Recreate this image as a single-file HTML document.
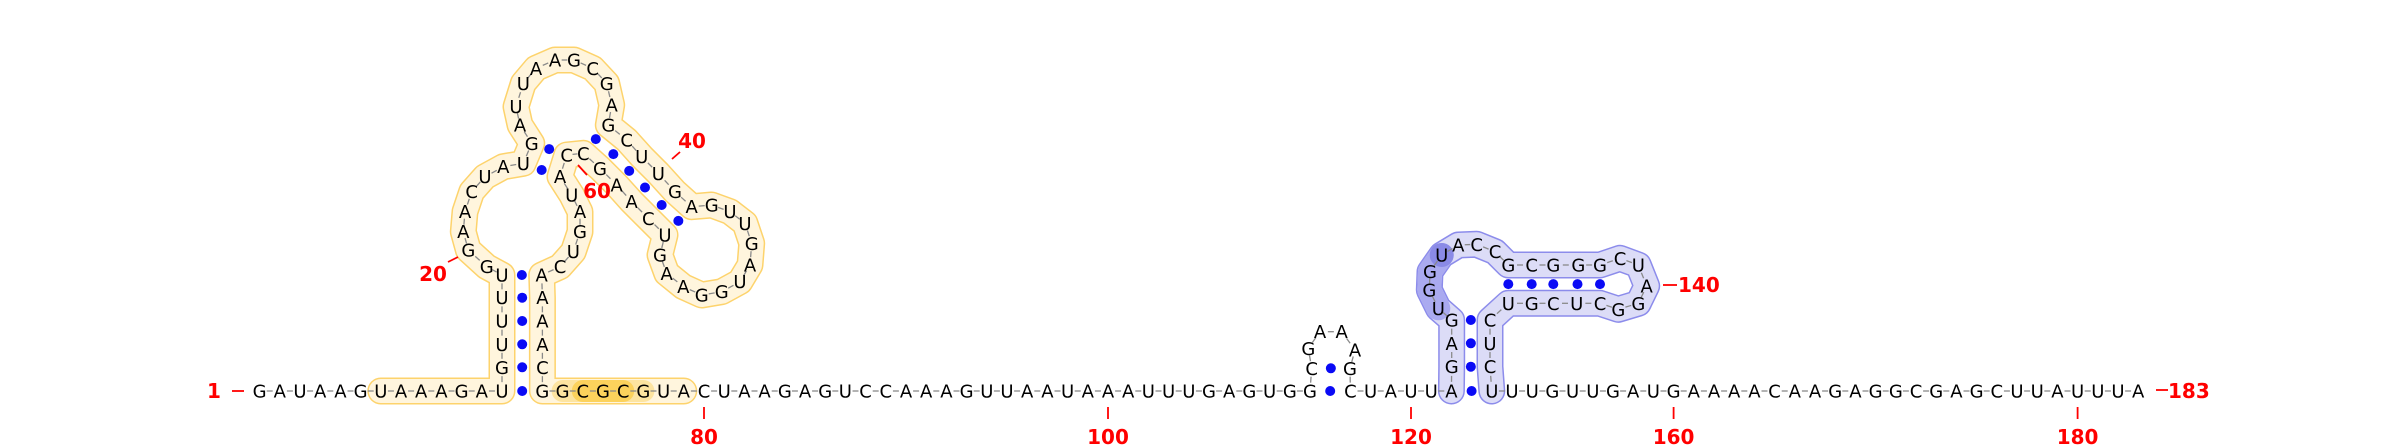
<!DOCTYPE html>
<html><head><meta charset="utf-8"><style>
html,body{margin:0;padding:0;background:#fff;width:2400px;height:448px;overflow:hidden}
svg text{font-family:"DejaVu Sans","Liberation Sans",sans-serif}
</style></head><body>
<svg id="rna" xmlns="http://www.w3.org/2000/svg" width="2400" height="448" viewBox="0 0 2400 448">
<g id="bands"></g>
<g id="bb"></g>
<g id="pairs"></g>
<g id="nts"></g>
<g id="labels"></g>
</svg>
<script>
// ---- data ----
const seqLeftBase = "GAUAAGUAAAGAU";                       // nt 1-13, slots 0-12
const seqStemL = "GUUUU";                                 // nt 14-18
const loopLetters = "GGAACUAUGAUUAAGCGAGCUUGAGUUGAUGGAAGUCAAGCCAUAGUCA"; // nt 19-67
const loopX = [486.7,468.3,463.3,465,471.7,485,503.3,523.3,531.7,520,516,523.3,536,555,574,592.7,606.7,611.7,608.3,626.7,641.7,658.3,675,691.7,711.7,730,745,751.7,750,740,721.7,701.7,683.3,666.7,660,665,648.3,631.7,616.7,600,583.3,566.7,560,571.7,580,580,573.3,560,541.7];
const loopY = [266.7,250,231.7,211.7,191.7,176.7,166.7,163.3,143.3,125,106.7,83.3,68.3,60,60,68.3,83.3,105,125,140,156.7,173.3,191.7,206.7,205,211.7,223.3,243.3,265,281.7,291.7,295,286.7,273.3,255,235,218.3,201.7,185,168.3,153.3,155,176.7,195,211.7,231.7,251.7,266.7,275];
const seqStemR = "AAAC";                                  // nt 68-71
const seqMid = "GGCGCGUACUAAGAGUCCAAAGUUAAUAAAUUUGAGUGG"; // nt 72-110, slots 14-52
const hpLetters = "CGAAAG";                               // nt 111-116
const hpX = [1311.7,1308.3,1320,1341.7,1355,1350];
const hpY = [368.3,348.3,331.7,331.7,350,368.3];
const seqMid2 = "CUAUUA";                                 // nt 117-122, slots 54-59
const pkLetters = "GAGUGGUACCGCGGGCUAGGCUCGUCUC";         // nt 123-150
const pkX = [1451.7,1451.7,1451.7,1438.3,1429.3,1430,1441.7,1458.3,1476.7,1495,1508.3,1531.7,1553.3,1578.3,1600,1620,1638.3,1646.7,1638.3,1618.3,1600,1576.7,1553.3,1531.7,1508.3,1490,1490,1490];
const pkY = [366.7,343.3,320,308.3,290,271.7,255,245,244.3,251.7,265,265,265,265,265,258.3,265,286,303.3,309.3,303.3,303.3,303.3,303.3,303.3,320,343.3,366.7];
const seqRight = "UUUGUUGAUGAAAACAAGAGGCGAGCUUAUUUA";     // nt 151-183, slots 61-93
const pairList = [[13,72],[14,71],[15,70],[16,69],[17,68],[18,67],[26,61],[27,60],[37,59],[38,58],[39,57],[40,56],[41,55],[42,54],[110,117],[111,116],[122,151],[123,150],[124,149],[125,148],[133,147],[134,146],[135,145],[136,144],[137,143]];
const tickNums = [80,100,120,160,180];
const structLabels = ["20","40","60"];
const structLabelPos = [[433,274,448,262,458,257],[692,141,672,159,680,152],[597,191,578,165,587,175]];

// ---- layout ----
const X0 = 259.6, DX = 20.2, BY = 391;
const slotX = s => X0 + DX*s;
const nt = {}; // n -> {c,x,y}
function put(n,c,x,y){ nt[n]={c:c,x:x,y:y}; }
for(let i=0;i<13;i++) put(i+1,seqLeftBase[i],slotX(i),BY);
const stemYs=[367.3,344.3,321,297.7,275];
for(let i=0;i<5;i++) put(14+i,seqStemL[i],slotX(12),stemYs[i]);
for(let i=0;i<loopLetters.length;i++) put(19+i,loopLetters[i],loopX[i],loopY[i]);
for(let i=0;i<4;i++) put(68+i,seqStemR[i],slotX(14),stemYs[3-i]);
for(let i=0;i<seqMid.length;i++) put(72+i,seqMid[i],slotX(14+i),BY);
for(let i=0;i<6;i++) put(111+i,hpLetters[i],hpX[i],hpY[i]);
for(let i=0;i<6;i++) put(117+i,seqMid2[i],slotX(54+i),BY);
for(let i=0;i<pkLetters.length;i++) put(123+i,pkLetters[i],pkX[i],pkY[i]);
for(let i=0;i<seqRight.length;i++) put(151+i,seqRight[i],slotX(61+i),BY);

const NS="http://www.w3.org/2000/svg";
function mk(tag,attrs,parent){ const e=document.createElementNS(NS,tag); for(const k in attrs) e.setAttribute(k,attrs[k]); parent.appendChild(e); return e; }
const gB=document.getElementById('bands'), gBB=document.getElementById('bb'), gP=document.getElementById('pairs'), gN=document.getElementById('nts'), gL=document.getElementById('labels');

function ptsOf(a,b){ let s=[]; for(let n=a;n<=b;n++) s.push(nt[n].x.toFixed(1)+','+nt[n].y.toFixed(1)); return s.join(' '); }
function band(a,b,fill,stroke,w,name){
  const o=mk('polyline',{points:ptsOf(a,b),fill:'none',stroke:stroke,'stroke-width':w+3,'stroke-linejoin':'round','stroke-linecap':'round'},gB);
  
  
  const f=mk('polyline',{points:ptsOf(a,b),fill:'none',stroke:fill,'stroke-width':w,'stroke-linejoin':'round','stroke-linecap':'round'},gB);
  
  
}
band(7,79,'#fff5dd','#fdd36c',24,'yellow-domain-band');
const m1=mk('polyline',{points:ptsOf(73,77),fill:'none',stroke:'#fde4a0','stroke-width':22,'stroke-linecap':'round'},gB);


const m2=mk('polyline',{points:ptsOf(74,76),fill:'none',stroke:'#fcd25c','stroke-width':22,'stroke-linecap':'round'},gB);


band(122,151,'#dcdcf7','#8c8ceb',24,'purple-domain-band');
const p1=mk('polyline',{points:ptsOf(126,129),fill:'none',stroke:'#aaaaf0','stroke-width':24,'stroke-linecap':'round','stroke-linejoin':'round'},gB);


const p2=mk('circle',{cx:nt[129].x,cy:nt[129].y,r:12,fill:'#8a8ae6'},gB);



// backbone dashes
const pairedSet={}; pairList.forEach(p=>{pairedSet[p[0]]=p[1];});
for(let n=1;n<183;n++){
  const a=nt[n], b=nt[n+1];
  const mx=(a.x+b.x)/2, my=(a.y+b.y)/2, dx=(b.x-a.x), dy=(b.y-a.y), L=Math.hypot(dx,dy);
  if(L>45) continue;
  const h=Math.min(3,L*0.15);
  const ln=mk('line',{x1:mx-dx/L*h,y1:my-dy/L*h,x2:mx+dx/L*h,y2:my+dy/L*h,stroke:'#8a8a8a','stroke-width':1.3},gBB);
  
  
}
// pairs
pairList.forEach(p=>{
  const a=nt[p[0]], b=nt[p[1]];
  const c=mk('circle',{cx:(a.x+b.x)/2,cy:(a.y+b.y)/2,r:5,fill:'#0a0af5'},gP);
  
  
});
// letters
for(let n=1;n<=183;n++){
  const t=mk('text',{x:nt[n].x,y:nt[n].y+6.5,'text-anchor':'middle','font-size':18,fill:'#000'},gN);
  t.textContent=nt[n].c;
  
  
}
// labels
function lbl(txt,x,y,anchor){
  const t=mk('text',{x:x,y:y,'text-anchor':anchor,'font-size':20,'font-weight':'bold',fill:'#ff0000'},gL);
  t.textContent=txt;
  
  
}
function tk(x1,y1,x2,y2){
  const l=mk('line',{x1:x1,y1:y1,x2:x2,y2:y2,stroke:'#ff0000','stroke-width':1.8},gL);
  
  
}
lbl("1",214,398,'middle'); tk(232,391,244,391);
lbl("183",2168,398,'start'); tk(2156,390,2168,390);
lbl("140",1678,292,'start'); tk(1663,285,1677,285);
tickNums.forEach(n=>{ const x=nt[n].x; tk(x,407,x,419); lbl(String(n),x,444,'middle'); });
structLabels.forEach((s,i)=>{ const p=structLabelPos[i]; lbl(s,p[0],p[1]+7,'middle'); tk(p[2],p[3],p[4],p[5]); });
</script>
</body></html>
